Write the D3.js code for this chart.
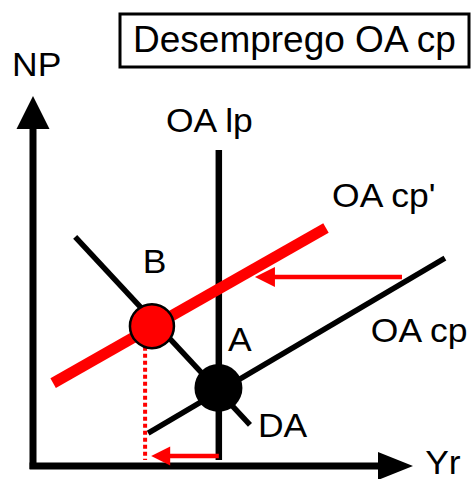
<!DOCTYPE html>
<html>
<head>
<meta charset="utf-8">
<script src="https://cdn.jsdelivr.net/npm/d3@7"></script>
<style>
  body { margin: 0; background: #fff; }
  text { font-family: "Liberation Sans", Arial, sans-serif; fill: #000; }
</style>
</head>
<body>
<div class="chart"></div>
<script>
// Data (diagram units 0-100 on both axes)
//= ================================
var pointA = [48.8, 21.1];
var pointB = [31.3, 37.8];
var oaLp = [[48.9, 85.4], [48.9, 1.6]];
var oaCp = [[30.3, 8.9], [108.4, 56.2]];
var oaCpShift = [[5.3, 22.4], [77.1, 64.3]];
var daLine = [[11.1, 61.9], [57.1, 11.1]];
var dropLine = [[29.5, 32.2], [29.5, 1.6]];
var shiftArrowLow = [[48.9, 2.7], [31.1, 2.7]];
var shiftArrowHigh = [[97.1, 51.1], [58.4, 51.1]];

var labelText = ["NP", "OA lp", "OA cp'", "B", "A", "OA cp", "DA", "Yr"];
var labelPos = [[-5.5, 105.4], [35.0, 90.3], [78.7, 70.0], [28.9, 52.2], [51.3, 31.1], [88.9, 33.5], [59.2, 7.8], [103.2, -2.2]];
var titleText = "Desemprego OA cp";

// Set up the chart
//= ================================
var svgWidth = 472;
var svgHeight = 479;

var svg = d3.select(".chart")
  .append("svg")
  .attr("width", svgWidth)
  .attr("height", svgHeight);

var x = d3.scaleLinear().domain([0, 100]).range([33, 413]);
var y = d3.scaleLinear().domain([0, 100]).range([466, 96]);

var line = d3.line()
  .x(d => x(d[0]))
  .y(d => y(d[1]));

// arrow head as triangle, tip at (tx, ty) pointing along (dx, dy)
function arrowHead(tx, ty, dx, dy, len, half) {
  var bx = tx - dx * len, by = ty - dy * len;
  var px = -dy * half, py = dx * half;
  return "M" + tx + "," + ty + "L" + (bx + px) + "," + (by + py) + "L" + (bx - px) + "," + (by - py) + "Z";
}

// axes
svg.append("path")
  .attr("d", line([[0, -0.8], [0, 92]]))
  .attr("stroke", "#000").attr("stroke-width", 7).attr("fill", "none");
svg.append("path")
  .attr("d", arrowHead(x(0), y(100), 0, -1, 33, 16.5))
  .attr("fill", "#000");

svg.append("path")
  .attr("d", line([[-0.9, 0], [92, 0]]))
  .attr("stroke", "#000").attr("stroke-width", 7).attr("fill", "none");
svg.append("path")
  .attr("d", arrowHead(x(100), y(0), 1, 0, 35, 14))
  .attr("fill", "#000");

// curves
svg.append("path").attr("d", line(oaLp))
  .attr("stroke", "#000").attr("stroke-width", 6.5).attr("fill", "none");
svg.append("path").attr("d", line(oaCp))
  .attr("stroke", "#000").attr("stroke-width", 5.5).attr("fill", "none");
svg.append("path").attr("d", line(daLine))
  .attr("stroke", "#000").attr("stroke-width", 5.5).attr("fill", "none");
svg.append("path").attr("d", line(oaCpShift))
  .attr("stroke", "#ff0000").attr("stroke-width", 11).attr("fill", "none");

// dotted drop line from B
svg.append("path").attr("d", line(dropLine))
  .attr("stroke", "#ff0000").attr("stroke-width", 4)
  .attr("stroke-dasharray", "4,3").attr("fill", "none");

// shift arrows
[shiftArrowLow, shiftArrowHigh].forEach(function(a, i) {
  var tipX = x(a[1][0]), tipY = y(a[1][1]);
  var len = i === 0 ? 19 : 20;
  var half = i === 0 ? 9.5 : 10;
  svg.append("path")
    .attr("d", line([a[0], [x.invert(tipX + len - 2), a[1][1]]]))
    .attr("stroke", "#ff0000").attr("stroke-width", 4.5).attr("fill", "none");
  svg.append("path")
    .attr("d", arrowHead(tipX, tipY, -1, 0, len, half))
    .attr("fill", "#ff0000");
});

// equilibrium points
svg.append("circle")
  .attr("cx", x(pointA[0])).attr("cy", y(pointA[1])).attr("r", 24)
  .attr("fill", "#000");
svg.append("circle")
  .attr("cx", x(pointB[0])).attr("cy", y(pointB[1])).attr("r", 22)
  .attr("fill", "#ff0000").attr("stroke", "#000").attr("stroke-width", 2.5);

// labels (slightly wide, like the original)
labelText.forEach(function(t, i) {
  svg.append("text")
    .attr("transform", `translate(${x(labelPos[i][0])}, ${y(labelPos[i][1])}) scale(1.06, 1)`)
    .attr("font-size", 33.5)
    .text(t);
});

// title box
svg.append("rect")
  .attr("x", 120).attr("y", 14)
  .attr("width", 349).attr("height", 53)
  .attr("fill", "#fff").attr("stroke", "#000").attr("stroke-width", 3);
svg.append("text")
  .attr("x", 133).attr("y", 52)
  .attr("font-size", 37)
  .text(titleText);
</script>
</body>
</html>
